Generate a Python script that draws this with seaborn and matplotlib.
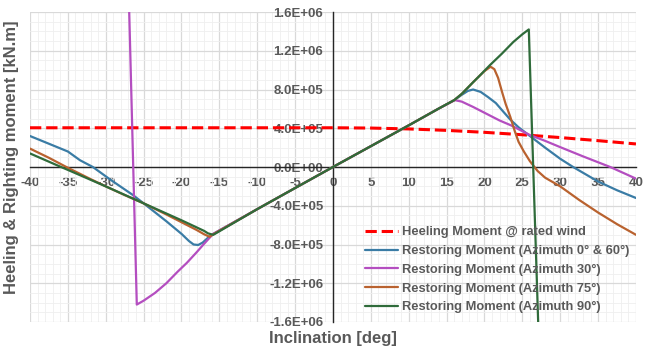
"""Heeling vs restoring moment curves for several azimuths."""

import matplotlib
matplotlib.use("Agg")
import matplotlib.pyplot as plt
from matplotlib.ticker import MultipleLocator, FuncFormatter
import pandas as pd
import seaborn as sns

# Moments are in units of 1e6 kN.m, inclination in deg
SCALE = 1e6

heel_x = [-40, -30, -20, -10, 0, 5, 10, 15, 20, 25, 30, 35, 40]
heel_y = [0.405, 0.405, 0.405, 0.405, 0.405, 0.402, 0.393, 0.378, 0.358, 0.333, 0.304, 0.272, 0.238]

az0_x = [-40, -37.5, -35, -33.4, -31.7, -29.4, -26.4, -25, -22, -20, -19, -18.4, -17.8, -17.2,
         -16.5, -15.8, -10, -5, 0, 5, 10, 14, 16, 17, 17.8, 18.5, 19.5, 20.5, 21.5, 22.5,
         23.4, 24.5, 26, 28, 30, 31.7, 35, 37.5, 40]
az0_y = [0.32, 0.24, 0.16, 0.07, 0.0, -0.13, -0.29, -0.375, -0.56, -0.69, -0.765, -0.80, -0.805,
         -0.78, -0.73, -0.69, -0.435, -0.217, 0.0, 0.215, 0.43, 0.605, 0.69, 0.745, 0.785, 0.80,
         0.775, 0.72, 0.66, 0.57, 0.49, 0.41, 0.32, 0.20, 0.085, 0.0, -0.15, -0.24, -0.32]

az30_x = [-27.0, -25.9, -25, -23.5, -22, -20.5, -19.3, -18, -17.1, -16.4, -15.8, -10, -5, 0,
          5, 10, 14, 16.1, 17, 18.5, 20, 22, 23.5, 26, 28, 30, 33, 36.6, 40]
az30_y = [1.9, -1.42, -1.38, -1.30, -1.20, -1.08, -0.99, -0.88, -0.80, -0.74, -0.69, -0.435,
          -0.217, 0.0, 0.215, 0.43, 0.605, 0.69, 0.675, 0.62, 0.56, 0.48, 0.43, 0.33, 0.27,
          0.205, 0.11, 0.0, -0.12]

az75_x = [-40, -37.5, -35.2, -32, -30, -27.5, -25, -22, -20, -18, -17, -16.3, -15.6, -10, -5,
          0, 5, 10, 14, 16, 17, 18.5, 19.4, 20.0, 20.8, 21.3, 21.8, 22.3, 22.8, 23.4, 24.0,
          24.5, 25.2, 26.0, 26.4, 27.0, 28, 30, 32.5, 35, 37.5, 40]
az75_y = [0.19, 0.095, 0.0, -0.125, -0.20, -0.29, -0.375, -0.49, -0.57, -0.65, -0.695, -0.72,
          -0.685, -0.435, -0.217, 0.0, 0.215, 0.43, 0.605, 0.69, 0.755, 0.875, 0.945, 0.99,
          1.035, 1.01, 0.92, 0.78, 0.65, 0.52, 0.37, 0.26, 0.16, 0.06, 0.02, -0.04, -0.11,
          -0.20, -0.34, -0.47, -0.59, -0.70]

az90_x = [-40, -35.9, -35, -30, -25, -20, -17, -16.5, -15.8, -10, -5, 0, 5, 10, 14, 16, 17,
          18.5, 19.4, 20.7, 22.3, 23.8, 25, 25.85, 27.15]
az90_y = [0.14, 0.0, -0.03, -0.20, -0.375, -0.55, -0.66, -0.685, -0.70, -0.435, -0.217, 0.0,
          0.215, 0.43, 0.605, 0.69, 0.755, 0.875, 0.945, 1.05, 1.17, 1.29, 1.37, 1.42, -1.75]

series = [
    ("Heeling Moment @ rated wind", heel_x, heel_y, "#ff0000", "--", 2.2),
    ("Restoring Moment (Azimuth 0° & 60°)", az0_x, az0_y, "#3a7ca5", "-", 1.6),
    ("Restoring Moment (Azimuth 30°)", az30_x, az30_y, "#b44ec0", "-", 1.6),
    ("Restoring Moment (Azimuth 75°)", az75_x, az75_y, "#b9622f", "-", 1.6),
    ("Restoring Moment (Azimuth 90°)", az90_x, az90_y, "#2f6b3a", "-", 1.6),
]

sns.set_theme(style="white")
plt.rcParams["font.family"] = ["Liberation Sans", "DejaVu Sans"]
grey = "#595959"

fig = plt.figure(figsize=(6.45, 3.5), dpi=100)
ax = fig.add_axes([0.0465, 0.08, 0.9395, 0.8857])

for label, xs, ys, color, ls, lw in series:
    df = pd.DataFrame({"x": xs, "y": [v * SCALE for v in ys]})
    sns.lineplot(data=df, x="x", y="y", ax=ax, color=color, linestyle=ls,
                 linewidth=lw, label=label, sort=False, estimator=None, zorder=3)

ax.set_xlim(-40, 40)
ax.set_ylim(-1.6e6, 1.6e6)
ax.xaxis.set_major_locator(MultipleLocator(5))
ax.xaxis.set_minor_locator(MultipleLocator(1))
ax.yaxis.set_major_locator(MultipleLocator(4e5))
ax.yaxis.set_minor_locator(MultipleLocator(1e5))
ax.yaxis.set_major_formatter(FuncFormatter(lambda v, p: f"{v:.1E}"))
ax.xaxis.set_major_formatter(FuncFormatter(lambda v, p: f"{v:.0f}"))

ax.grid(which="major", color="#d9d9d9", linewidth=0.9)
ax.grid(which="minor", color="#efefef", linewidth=0.6)
ax.set_axisbelow(True)

for side in ["top", "right"]:
    ax.spines[side].set_visible(False)
for side in ["left", "bottom"]:
    ax.spines[side].set_position(("data", 0))
    ax.spines[side].set_color("#262626")
    ax.spines[side].set_linewidth(1.0)
    ax.spines[side].set_zorder(2.8)

ax.tick_params(which="major", direction="out", length=4, width=0.8, color="#262626",
               labelsize=9.5, labelcolor=grey, pad=3)
ax.tick_params(which="minor", length=0)
for t in ax.get_xticklabels() + ax.get_yticklabels():
    t.set_fontweight("bold")

ax.set_xlabel("Inclination [deg]", fontsize=12, fontweight="bold", color=grey)
ax.xaxis.set_label_coords(0.5, -0.028)
ax.set_ylabel("Heeling & Righting moment [kN.m]", fontsize=12, fontweight="bold",
              color=grey, va="center")
ax.yaxis.set_label_coords(-0.03, 0.53)

leg = ax.legend(loc="upper left", bbox_to_anchor=(0.545, 0.325), frameon=False,
                prop={"size": 9.3, "weight": "bold"}, handlelength=2.5,
                labelspacing=0.52, handletextpad=0.35, borderaxespad=0)
for t in leg.get_texts():
    t.set_color(grey)

fig.savefig("out.png", dpi=100)
